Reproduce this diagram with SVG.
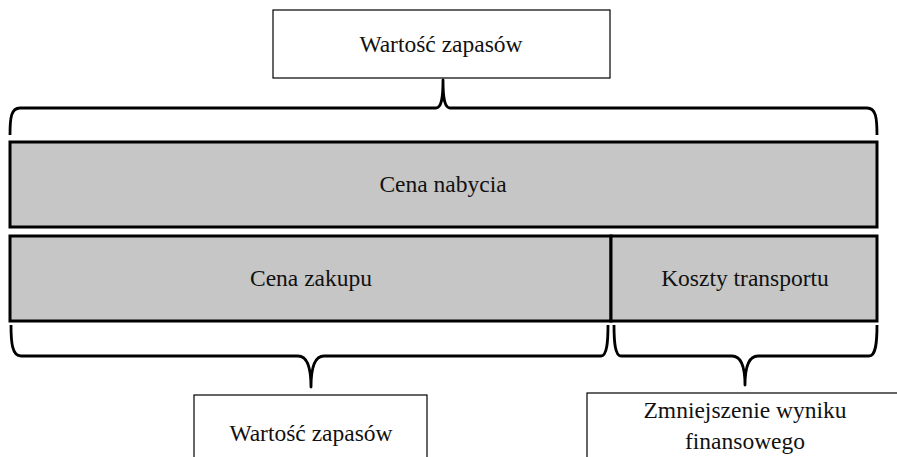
<svg xmlns="http://www.w3.org/2000/svg" width="897" height="457" viewBox="0 0 897 457">
<style>
.w{fill:#fff;stroke:#000;stroke-width:1.2}
.g{fill:#c6c6c6;stroke:#000;stroke-width:3}
.b{fill:none;stroke:#000;stroke-width:2.8;stroke-linejoin:round}
text{font-family:"Liberation Serif","DejaVu Serif",serif;font-size:23.5px;fill:#111;text-anchor:middle}
</style>
<rect width="897" height="457" fill="#fff"/>
<g id="top"><rect class="w" x="273" y="10" width="337" height="68"/><text x="441" y="52">Wartość zapasów</text></g>
<g id="nabycia"><rect class="g" x="10" y="142" width="867" height="85"/><text x="443" y="192">Cena nabycia</text></g>
<g id="zakupu"><rect class="g" x="10" y="236" width="601" height="85"/><text x="311" y="286">Cena zakupu</text></g>
<g id="transport"><rect class="g" x="611" y="236" width="266" height="85"/><text x="745" y="286">Koszty transportu</text></g>
<g id="bottomleft"><rect class="w" x="194" y="395" width="233" height="70"/><text x="311" y="441">Wartość zapasów</text></g>
<g id="bottomright"><rect class="w" x="587" y="393" width="320" height="70"/><text x="745" y="418">Zmniejszenie wyniku</text><text x="745" y="449">finansowego</text></g>
<g id="connectors">
<path class="b" d="M10,135 C10,118 11,108 20,108 L436,108 C441,108 443,100 443,80 C443,100 445,108 450,108 L867,108 C876,108 877,118 877,135"/>
<path class="b" d="M11,325 C11,342 12,356 21,356 L298,356 C306,356 311,364 311,387 C311,364 316,356 324,356 L601,356 C607,356 608,342 608,325"/>
<path class="b" d="M614,325 C614,342 615,356 621,356 L732,356 C740,356 745,364 745,385 C745,364 750,356 758,356 L869,356 C876,356 877,342 877,325"/>
</g>
</svg>
